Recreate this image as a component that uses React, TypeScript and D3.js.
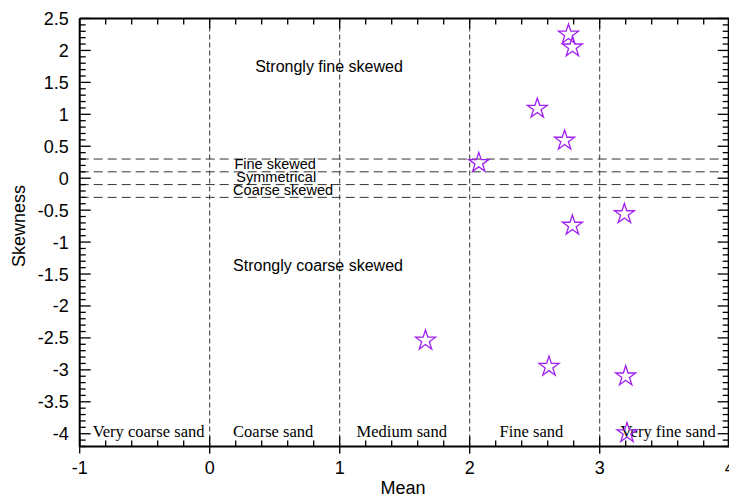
import React from 'react';
import * as d3 from 'd3';

const meanValues = [2.76, 2.79, 2.52, 2.73, 2.07, 3.19, 2.79, 1.66, 2.61, 3.2, 3.21];
const skewValues = [2.25, 2.05, 1.09, 0.59, 0.24, -0.56, -0.74, -2.54, -2.95, -3.1, -3.99];

const xTickValues = [-1, 0, 1, 2, 3, 4];
const yTickValues = [-4, -3.5, -3, -2.5, -2, -1.5, -1, -0.5, 0, 0.5, 1, 1.5, 2, 2.5];
const yTickLabels = ['-4', '-3.5', '-3', '-2.5', '-2', '-1.5', '-1', '-0.5', '0', '0.5', '1', '1.5', '2', '2.5'];

const sizeBounds = [0, 1, 2, 3];
const skewBounds = [0.3, 0.1, -0.1, -0.3];

const sizeLabels = ['Very coarse sand', 'Coarse sand', 'Medium sand', 'Fine sand', 'Very fine sand'];
const sizeLabelX = [-0.9, 0.18, 1.13, 2.23, 3.16];

const skewLabels = ['Strongly fine skewed', 'Fine skewed', 'Symmetrical', 'Coarse skewed', 'Strongly coarse skewed'];
const skewLabelX = [0.35, 0.19, 0.205, 0.18, 0.18];
const skewLabelY = [1.67, 0.14, -0.06, -0.27, -1.46];
const skewLabelSize = [16, 14.5, 14.5, 14.5, 16];

const W = 729;
const H = 497;
const SANS = '"Liberation Sans", Arial, sans-serif';
const SERIF = '"Liberation Serif", "Times New Roman", serif';

export default function App() {
  const x = d3.scaleLinear().domain([-1, 4]).range([79.7, 729.7]);
  const y = d3.scaleLinear().domain([-4.2, 2.5]).range([446.5, 18.5]);
  const [x0, x1] = x.range();
  const [y0, y1] = y.range();

  const xMinor = d3.range(-1, 4.0001, 0.2).map((v) => +v.toFixed(2));
  const yMinor = d3.range(-4.2, 2.5001, 0.1).map((v) => +v.toFixed(2));
  const isInt = (v: number) => Math.abs(v - Math.round(v)) < 1e-6;
  const isHalf = (v: number) => Math.abs(v * 2 - Math.round(v * 2)) < 1e-6;

  const star = d3.symbol().type(d3.symbolStar).size(124)();
  const purple = '#a020f0';
  const dash = '#333333';

  return (
    <svg width={W} height={H} style={{ position: 'absolute', left: 0, top: 0, background: '#fff' }}>
      {/* vertical class boundaries */}
      {sizeBounds.map((b) => (
        <line key={'vb' + b} x1={x(b)} x2={x(b)} y1={y1} y2={y0 + 7} stroke={dash} strokeWidth={1} strokeDasharray="5,3" />
      ))}
      {/* horizontal skewness boundaries */}
      {skewBounds.map((b) => (
        <line key={'hb' + b} x1={x0} x2={x1} y1={y(b)} y2={y(b)} stroke={dash} strokeWidth={1} strokeDasharray="9,5" />
      ))}

      {/* axes frame */}
      <line x1={x0} x2={x0} y1={y1} y2={y0} stroke="#000" strokeWidth={2} />
      <line x1={x1 - 1} x2={x1 - 1} y1={y1} y2={y0} stroke="#000" strokeWidth={2} />
      <line x1={x0} x2={x1} y1={y0} y2={y0} stroke="#000" strokeWidth={2} />
      <line x1={x0} x2={x1} y1={y1} y2={y1} stroke="#000" strokeWidth={2} />

      {/* x ticks */}
      {xMinor.map((v) => {
        const major = isInt(v);
        return (
          <g key={'xt' + v}>
            <line x1={x(v)} x2={x(v)} y1={y0 + (major ? 7 : 0)} y2={y0 - (major ? 10 : 6)} stroke="#000" strokeWidth={1.3} />
            <line x1={x(v)} x2={x(v)} y1={y1} y2={y1 + (major ? 10 : 6)} stroke="#000" strokeWidth={1.3} />
          </g>
        );
      })}
      {/* y ticks */}
      {yMinor.map((v) => {
        const major = isHalf(v);
        return (
          <g key={'yt' + v}>
            <line x1={x0} x2={x0 + (major ? 11 : 6)} y1={y(v)} y2={y(v)} stroke="#000" strokeWidth={1.3} />
            <line x1={x1 - 1} x2={x1 - 1 - (major ? 11 : 6)} y1={y(v)} y2={y(v)} stroke="#000" strokeWidth={1.3} />
          </g>
        );
      })}

      {/* tick labels */}
      {xTickValues.map((v) => (
        <text key={'xl' + v} x={x(v)} y={y0 + 27} textAnchor="middle" fontFamily={SANS} fontSize={18} fill="#000">
          {String(v)}
        </text>
      ))}
      {yTickValues.map((v, i) => (
        <text key={'yl' + v} x={x0 - 11} y={y(v) + 6.5} textAnchor="end" fontFamily={SANS} fontSize={18} fill="#000">
          {yTickLabels[i]}
        </text>
      ))}

      {/* axis titles */}
      <text x={403} y={494} textAnchor="middle" fontFamily={SANS} fontSize={18} fill="#000">
        Mean
      </text>
      <text transform="translate(25,226) rotate(-90)" textAnchor="middle" fontFamily={SANS} fontSize={18} fill="#000">
        Skewness
      </text>

      {/* region labels */}
      {skewLabels.map((t, i) => (
        <text key={'sl' + i} x={x(skewLabelX[i])} y={y(skewLabelY[i])} fontFamily={SANS} fontSize={skewLabelSize[i]} fill="#000">
          {t}
        </text>
      ))}
      {sizeLabels.map((t, i) => (
        <text key={'zl' + i} x={x(sizeLabelX[i])} y={y(-4.05)} fontFamily={SERIF} fontSize={16.5} fill="#000">
          {t}
        </text>
      ))}

      {/* data points */}
      {meanValues.map((m, i) => (
        <path key={'p' + i} d={star ?? ''} transform={`translate(${x(m)},${y(skewValues[i])})`} fill="none" stroke={purple} strokeWidth={1.3} />
      ))}
    </svg>
  );
}
